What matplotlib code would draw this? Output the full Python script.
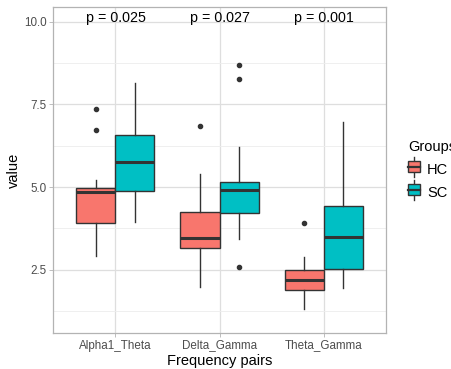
import matplotlib.pyplot as plt
from matplotlib.patches import Rectangle
from matplotlib.lines import Line2D
from matplotlib.legend_handler import HandlerBase

plt.rcParams['font.family'] = ['Liberation Sans', 'DejaVu Sans']

pairs = ["Alpha1_Theta", "Delta_Gamma", "Theta_Gamma"]
groups = ["HC", "SC"]
fills = ["#F8766D", "#00BFC4"]
p_labels = ["p = 0.025", "p = 0.027", "p = 0.001"]

# five-number summaries per group, one entry per frequency pair
hc_whislo = [2.92, 1.97, 1.31]
hc_q1 = [3.91, 3.14, 1.87]
hc_med = [4.86, 3.47, 2.17]
hc_q3 = [4.97, 4.24, 2.50]
hc_whishi = [5.22, 5.40, 2.87]
hc_out = [[7.37, 6.73], [6.86], [3.91]]

sc_whislo = [3.94, 3.44, 1.94]
sc_q1 = [4.88, 4.20, 2.52]
sc_med = [5.76, 4.92, 3.48]
sc_q3 = [6.56, 5.14, 4.42]
sc_whishi = [8.16, 6.22, 6.98]
sc_out = [[], [8.70, 8.27, 2.59], []]


def stats(lo, q1, med, q3, hi, out):
    return [dict(whislo=a, q1=b, med=c, q3=d, whishi=e, fliers=f)
            for a, b, c, d, e, f in zip(lo, q1, med, q3, hi, out)]


group_stats = [
    stats(hc_whislo, hc_q1, hc_med, hc_q3, hc_whishi, hc_out),
    stats(sc_whislo, sc_q1, sc_med, sc_q3, sc_whishi, sc_out),
]

fig = plt.figure(figsize=(4.51, 3.69), dpi=100)
ax = fig.add_axes([53 / 451, 1 - 333 / 369, 333 / 451, 326 / 369])

edge = "#333333"
width = 0.375
for gi, (st, col) in enumerate(zip(group_stats, fills)):
    pos = [i + 1 + (gi - 0.5) * width for i in range(len(pairs))]
    ax.bxp(st, positions=pos, widths=width, patch_artist=True,
           showcaps=False, manage_ticks=False,
           boxprops=dict(facecolor=col, edgecolor=edge, linewidth=1.0),
           whiskerprops=dict(color=edge, linewidth=1.0),
           medianprops=dict(color=edge, linewidth=2.2),
           flierprops=dict(marker='o', markerfacecolor=edge, markeredgecolor=edge,
                           markersize=3.0, linestyle='none'),
           zorder=3)

for i, lab in enumerate(p_labels):
    ax.text(i + 1, 10.13, lab, ha='center', va='center', fontsize=10.3, color='black', zorder=4)

ax.set_xlim(0.4, 3.6)
ax.set_ylim(0.58, 10.45)
ax.set_xticks(range(1, len(pairs) + 1))
ax.set_xticklabels(pairs)
ax.set_yticks([2.5, 5.0, 7.5, 10.0])
ax.set_yticklabels(["2.5", "5.0", "7.5", "10.0"])
ax.set_yticks([1.25, 3.75, 6.25, 8.75], minor=True)
ax.grid(True, which='major', color='#DEDEDE', linewidth=0.9, zorder=0)
ax.grid(True, which='minor', axis='y', color='#EDEDED', linewidth=0.6, zorder=0)
ax.set_axisbelow(True)
ax.tick_params(which='major', length=2.7, width=0.6, color='#B3B3B3',
               labelcolor='#4D4D4D', labelsize=8.4, pad=2)
ax.tick_params(which='minor', length=0)
for sp in ax.spines.values():
    sp.set_color('#B3B3B3')
    sp.set_linewidth(0.9)
ax.set_xlabel("Frequency pairs", fontsize=10.5, labelpad=2)
ax.set_ylabel("value", fontsize=10.5, labelpad=2)


class BoxKey(HandlerBase):
    def __init__(self, fill):
        super().__init__()
        self.fill = fill

    def create_artists(self, legend, orig_handle, x0, y0, w, h, fontsize, trans):
        cx = x0 + w / 2
        bw = w * 0.95
        line = Line2D([cx, cx], [y0 - h * 0.3, y0 + h * 1.3], color=edge, lw=1.0, transform=trans)
        box = Rectangle((cx - bw / 2, y0 + h * 0.05), bw, h * 0.9, facecolor=self.fill,
                        edgecolor=edge, lw=1.0, transform=trans)
        med = Line2D([cx - bw / 2, cx + bw / 2], [y0 + h / 2, y0 + h / 2], color=edge,
                     lw=1.6, transform=trans)
        return [line, box, med]


handles = [Rectangle((0, 0), 1, 1) for _ in groups]
fig.legend(handles, groups, title="Groups", loc='upper left',
           bbox_to_anchor=(395 / 451, 1 - 127 / 369), frameon=False,
           fontsize=10.5, title_fontsize=10.5, handlelength=0.84, handleheight=0.95,
           handletextpad=0.45, labelspacing=0.6, alignment='left',
           handler_map={h: BoxKey(c) for h, c in zip(handles, fills)})

fig.savefig("out.png", dpi=100)
